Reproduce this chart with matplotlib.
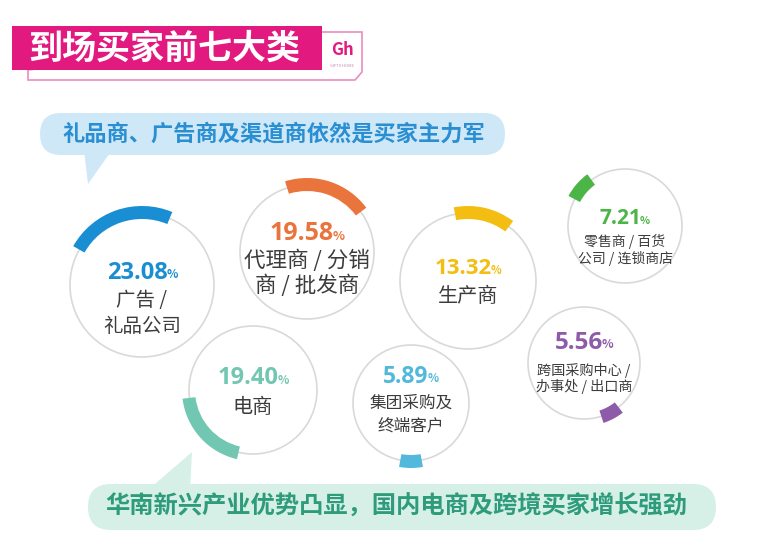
import matplotlib
matplotlib.use('Agg')
import matplotlib.pyplot as plt
from matplotlib.patches import Circle, Wedge, FancyBboxPatch, Polygon, Rectangle
import numpy as np

plt.rcParams['font.family'] = ['Noto Sans CJK SC', 'DejaVu Sans']

#%% data

title = '到场买家前七大类'
note_top = '礼品商、广告商及渠道商依然是买家主力军'
note_bottom = '华南新兴产业优势凸显，国内电商及跨境买家增长强劲'

labels = ['广告 /\n礼品公司', '代理商 / 分销\n商 / 批发商', '生产商',
          '零售商 / 百货\n公司 / 连锁商店', '跨国采购中心 /\n办事处 / 出口商',
          '电商', '集团采购及\n终端客户']
shares = [23.08, 19.58, 13.32, 7.21, 5.56, 19.40, 5.89]

#%% layout (pixels, y down)

cx = [142, 307, 468, 625, 584, 253, 411]
cy = [285, 252, 281, 226, 363, 390, 403]
rad = [72, 67, 68, 57, 56, 64, 58]
mid_ang = [109, 72, 77, 139, -62, 222, 270]   # where the arc sits
colors = ['#1a8ed3', '#e9743c', '#f4bd12', '#4bb548', '#8d5ba8', '#72c7b3', '#52b9dc']
num_size = [17, 18, 16, 15, 17.5, 17, 16.5]
lab_size = [14, 15.5, 14.5, 10, 10.2, 14.5, 12]
lab_ls = [1.3, 1.15, 1.3, 1.15, 1.05, 1.3, 1.4]
num_y = [273, 234, 268, 219, 343, 378, 377]
lab_y = [290, 250, 286, 234, 363, 397, 395]

W, H = 770, 554
fig = plt.figure(figsize=(W/100, H/100), dpi=100)
ax = fig.add_axes([0, 0, 1, 1])
ax.set_xlim(0, W)
ax.set_ylim(H, 0)
ax.axis('off')

# title block
pink = '#e2197f'
ax.add_patch(Polygon([[28, 70], [28, 80], [355, 80], [362, 72], [362, 32], [322, 32]],
                     closed=True, fc='white', ec='#eb8cbe', lw=1.2, zorder=1))
ax.add_patch(Rectangle((12, 26), 310, 44, fc=pink, ec='none', zorder=2))
ax.text(164, 48, title, color='white', fontsize=24.5, fontweight='bold',
        ha='center', va='center', zorder=3)
ax.text(342, 50, 'Gh', color=pink, fontsize=12, fontweight='bold',
        ha='center', va='center', zorder=3)
ax.text(342, 66, 'GIFTS HOME', color='#c98aad', fontsize=3,
        ha='center', va='center', zorder=3)

# top bubble
blue_bg = '#cfe8f8'
ax.add_patch(FancyBboxPatch((40, 113), 465, 42, boxstyle='round,pad=0,rounding_size=21',
                            fc=blue_bg, ec='none', zorder=1))
ax.add_patch(Polygon([[84, 150], [112, 150], [88, 184]], closed=True, fc=blue_bg, ec='none', zorder=1))
ax.text(274, 134, note_top, color='#2a8fd2', fontsize=16, fontweight='bold',
        ha='center', va='center', zorder=2)

# bottom bubble
green_bg = '#d6efe7'
ax.add_patch(FancyBboxPatch((88, 484), 628, 46, boxstyle='round,pad=0,rounding_size=23',
                            fc=green_bg, ec='none', zorder=1))
ax.add_patch(Polygon([[148, 490], [190, 490], [192, 452]], closed=True, fc=green_bg, ec='none', zorder=1))
ax.text(396, 507, note_bottom, color='#2e9c7a', fontsize=17.5, fontweight='bold',
        ha='center', va='center', zorder=2)

# circles with arcs
num_txt = []
for i in range(len(shares)):
    ax.add_patch(Circle((cx[i], cy[i]), rad[i], fc='white', ec='#d9d9d9', lw=1.2, zorder=3))
    span = shares[i]*3.6
    a1 = mid_ang[i] - span/2
    a2 = mid_ang[i] + span/2
    # y axis is flipped, so screen angles change sign
    ax.add_patch(Wedge((cx[i], cy[i]), rad[i]+7, -a2, -a1, width=13,
                       fc=colors[i], ec='none', zorder=4))
    t = ax.text(cx[i]-5, num_y[i], '%.2f' % shares[i], color=colors[i],
                fontsize=num_size[i], fontweight='bold', ha='center', va='center',
                family=['Open Sans', 'DejaVu Sans'], zorder=5)
    num_txt.append(t)
    ax.text(cx[i], lab_y[i], labels[i], color='#3c3c3c', fontsize=lab_size[i],
            ha='center', va='top', linespacing=lab_ls[i], zorder=5)

# small % sign after each number
fig.canvas.draw()
r = fig.canvas.get_renderer()
inv = ax.transData.inverted()
for i, t in enumerate(num_txt):
    bb = t.get_window_extent(renderer=r)
    x_end, _ = inv.transform((bb.x1, bb.y0))
    ax.text(x_end-1, num_y[i]+2, '%', color=colors[i], fontsize=num_size[i]*0.5,
            fontweight='bold', ha='left', va='center', zorder=5)

plt.savefig('out.png', dpi=100)
